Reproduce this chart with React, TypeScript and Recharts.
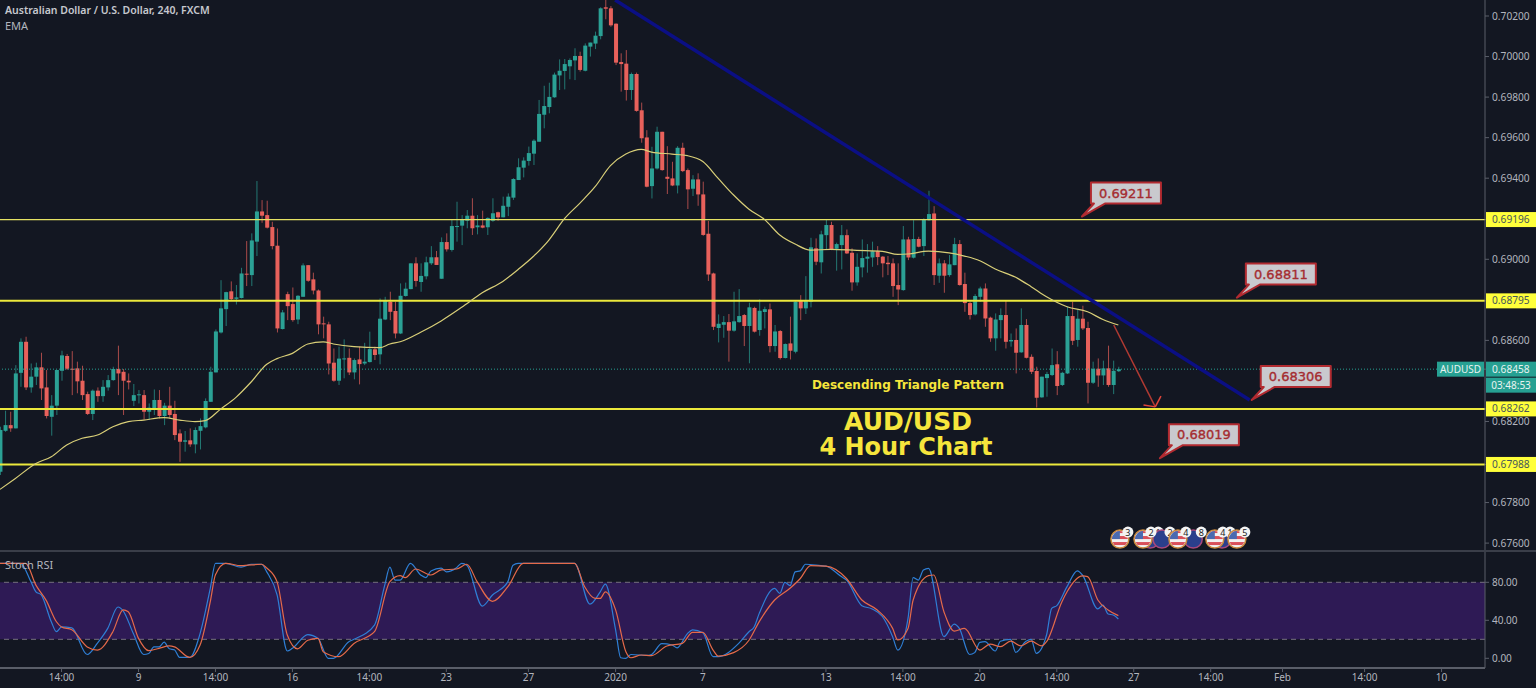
import {
  ComposedChart,
  Bar,
  Line,
  XAxis,
  YAxis,
  ReferenceLine,
  ReferenceArea,
  ReferenceDot,
} from "recharts";

// prices are in points, 1 point = 0.00001
const opens = [
  67952,68154,68182,68166,68440,68593,68368,68421,68467,68368,
  68223,68278,68450,68523,68460,68462,68401,68335,68237,68352,
  68325,68368,68404,68459,68445,68401,68302,68330,68330,68248,
  68265,68306,68227,68278,68237,68141,68100,68107,68087,68154,
  68171,68297,68442,68639,68754,68842,68805,68809,68929,68922,
  69087,69236,69218,69159,69067,68656,68828,68779,68703,68815,
  68971,68901,68846,68684,68679,68490,68401,68508,68514,68442,
  68506,68486,68493,68556,68531,68703,68791,68745,68634,68819,
  68853,68980,68888,68916,68980,69010,68904,69085,69046,69161,
  69166,69190,69215,69158,69167,69158,69190,69232,69207,69259,
  69304,69391,69452,69485,69521,69580,69713,69751,69799,69907,
  69929,69952,69981,70003,69930,70049,70064,70101,70243,70238,
  70162,69973,69965,69835,69914,69735,69601,69361,69448,69629,
  69407,69399,69364,69550,69440,69348,69394,69320,69126,68930,
  68661,68677,68690,68648,68690,68725,68671,68760,68651,68740,
  68753,68572,68646,68513,68585,68544,68794,68758,68791,69054,
  68985,69119,69169,69052,69070,69119,69032,68886,68960,69003,
  69009,69040,69013,68983,68980,68873,68848,69098,69008,69100,
  69065,69193,69226,68919,68980,68922,68971,69075,68878,68784,
  68728,68815,68856,68712,68610,68700,68725,68595,68602,68541,
  68676,68519,68449,68319,68414,68429,68482,68380,68437,68720,
  68602,68707,68661,68391,68460,68427,68462,68380,68448,
];
const highs = [
  68174,68253,68248,68478,68610,68618,68486,68490,68539,68454,
  68330,68454,68549,68533,68547,68495,68475,68347,68358,68368,
  68404,68429,68470,68574,68459,68437,68385,68355,68355,68289,
  68358,68355,68292,68371,68302,68161,68153,68166,68171,68215,
  68314,68470,68654,68897,68840,68891,68873,68958,69090,69128,
  69386,69292,69289,69185,69152,68750,68840,68861,68823,68980,
  68971,68934,68851,68717,68692,68560,68569,68605,68560,68511,
  68569,68588,68643,68569,68807,68815,68840,68791,68881,68885,
  68980,69010,68980,69013,69065,69041,69108,69128,69194,69284,
  69218,69243,69301,69218,69240,69207,69301,69235,69309,69325,
  69400,69498,69503,69556,69592,69786,69856,69871,69921,69986,
  69988,69991,70041,70024,70065,70069,70123,70243,70287,70249,
  70164,70016,70032,69921,69921,69773,69637,69555,69654,69629,
  69558,69481,69558,69575,69448,69415,69424,69383,69189,68934,
  68728,68720,68730,68840,68853,68730,68786,68766,68802,68766,
  68782,68676,68651,68585,68717,68796,68823,68917,69106,69103,
  69141,69197,69185,69082,69169,69147,69054,69029,69098,69075,
  69087,69065,69016,69016,69004,68980,69164,69111,69193,69111,
  69202,69338,69262,69004,68996,69021,69106,69095,68934,68791,
  68828,68865,68881,68717,68733,68758,68799,68634,68659,68758,
  68705,68531,68470,68421,68445,68560,68547,68445,68766,68791,
  68750,68771,68692,68495,68511,68500,68574,68500,68470,
];
const lows = [
  67936,68149,68149,68166,68371,68355,68342,68380,68306,68215,
  68130,68232,68401,68454,68330,68339,68306,68232,68207,68297,
  68297,68352,68401,68330,68232,68358,68276,68289,68210,68207,
  68232,68215,68182,68215,68108,68001,68051,68075,68043,68062,
  68166,68297,68442,68634,68671,68799,68777,68807,68868,68868,
  69016,69180,69152,69049,68639,68654,68700,68692,68680,68815,
  68889,68827,68630,68610,68432,68396,68380,68413,68429,68408,
  68383,68478,68491,68503,68482,68700,68700,68610,68631,68816,
  68852,68865,68840,68901,68972,68972,68904,69038,69038,69087,
  69070,69153,69120,69123,69153,69120,69185,69190,69207,69213,
  69293,69391,69404,69462,69465,69580,69646,69720,69797,69835,
  69838,69888,69884,69926,69927,70000,70037,70085,70184,70147,
  69958,69827,69783,69786,69728,69575,69355,69300,69443,69437,
  69322,69361,69325,69430,69248,69312,69264,69116,68893,68651,
  68590,68613,68495,68643,68687,68572,68487,68639,68623,68659,
  68541,68544,68506,68511,68506,68536,68700,68730,68763,68971,
  68930,69049,69045,68944,68950,69026,68845,68870,68911,68934,
  68963,68971,68911,68922,68815,68774,68845,68996,69004,69059,
  69016,69190,68873,68884,68835,68914,68971,68870,68741,68703,
  68723,68791,68667,68593,68549,68610,68560,68569,68437,68539,
  68511,68434,68269,68317,68322,68424,68330,68375,68434,68577,
  68569,68651,68289,68385,68371,68380,68371,68335,68444,
];
const closes = [
  68158,68182,68166,68437,68593,68368,68421,68467,68363,68227,
  68278,68454,68526,68460,68457,68398,68330,68237,68352,68325,
  68371,68404,68459,68437,68401,68393,68330,68334,68248,68268,
  68306,68227,68278,68232,68133,68100,68107,68087,68158,68177,
  68301,68445,68644,68758,68838,68804,68812,68930,68924,69093,
  69236,69215,69156,69065,68659,68738,68769,68700,68820,68970,
  68894,68846,68679,68679,68486,68401,68510,68511,68442,68503,
  68483,68495,68557,68528,68707,68796,68741,68634,68820,68855,
  68980,68893,68918,68985,69010,68972,69085,69049,69164,69164,
  69194,69215,69153,69167,69156,69204,69227,69207,69264,69309,
  69396,69454,69487,69524,69585,69717,69756,69801,69911,69930,
  69963,69983,70003,69934,70054,70069,70103,70238,70236,70154,
  69970,69963,69835,69914,69732,69597,69358,69448,69629,69440,
  69397,69364,69550,69435,69345,69394,69320,69120,68925,68667,
  68682,68690,68648,68694,68720,68671,68763,68643,68746,68754,
  68572,68644,68513,68582,68549,68791,68758,68794,69059,68988,
  69123,69169,69049,69075,69119,69029,68886,68963,69006,69013,
  69040,69011,68980,68976,68868,68851,69098,69009,69100,69062,
  69197,69223,68922,68980,68919,68975,69075,68873,68784,68725,
  68819,68856,68708,68610,68703,68725,68593,68602,68539,68676,
  68514,68445,68317,68421,68434,68478,68375,68440,68720,68598,
  68707,68659,68391,68460,68427,68462,68380,68450,68458,
];

// EMA read at these bars
const emaBars = [0,3,7,10,13,16,19,22,25,28,32,35,38,40,43,46,49,52,54,57,60,63,65,69,74,76,78,82,86,90,94,98,101,104,107,110,113,116,119,122,125,127,131,134,137,140,143,146,149,152,155,158,162,167,172,175,177,181,185,188,191,194,198,201,204,208,212,215,218];
const emaValues = [67865,67919,67993,68026,68084,68117,68133,68174,68199,68207,68219,68207,68199,68204,68261,68319,68396,68482,68510,68536,68582,68593,68582,68569,68564,68582,68593,68640,68696,68763,68835,68891,68950,69015,69095,69199,69276,69358,69462,69519,69542,69529,69519,69511,69482,69399,69317,69247,69197,69120,69075,69045,69049,69044,69039,69024,69026,69040,69032,69016,68993,68952,68911,68865,68815,68766,68741,68703,68676];

// Stoch RSI read at these bars
const kBars = [0,4,6,7,8,10,11,12,14,17,19,21,23,24,26,28,29,30,31,32,33,34,35,37,39,41,42,44,47,49,51,52,54,56,57,60,62,64,65,68,69,73,75,76,77,78,80,82,83,84,86,87,89,90,91,94,96,99,100,101,112,115,117,118,120,121,122,123,126,127,129,131,132,134,135,137,139,140,144,146,147,148,151,152,153,154,155,156,157,160,161,164,165,168,170,172,174,175,177,178,179,180,181,184,186,187,189,190,191,192,194,195,197,198,200,201,202,204,205,206,208,210,211,214,215,216,217,218];
const kValues = [100,100,81,70,67,38.5,28,33,32,4,16,31.5,54,50,26,4,5,12,12,17,10,9,1,1,26,74,100,100,96,99,99,91,67,7.7,10.5,25,21,0,0,17.5,20,35,77,96,82.4,82.4,100,87.7,85,92,95,91,95.4,100,98,55,66.6,80.7,98,100,100,57,70,78,30,0.6,0,4,3,4,15.4,14,11,26,30,27,1.7,1.7,15.7,28,33,47.3,73.7,68.4,80,76.5,91,92,99,97.5,97,86,82.4,55.4,52,44,22.8,8.7,42,85,82.4,93,94.7,22.8,36,31.5,4,6,16.8,17.5,7.7,18,20,6.3,18,20,5.2,24.5,52.6,55.4,75.4,92,87.7,52,56,46.6,45.6,41.4];
const dBars = [0,5,7,9,11,12,14,17,19,22,24,25,27,29,31,33,34,37,39,41,42,44,47,51,52,54,56,58,60,62,63,66,69,73,76,78,79,81,84,86,89,91,93,96,99,102,112,114,116,117,118,120,122,123,125,127,130,133,135,137,139,140,143,146,148,151,154,156,158,161,165,168,171,174,175,177,178,181,182,184,186,188,191,193,195,197,199,201,203,204,207,208,211,212,214,216,218];
const dValues = [100,100,77,61,38.5,33,30,12,8.7,28,51,49,21,8,10.5,13,12,1,14,60,88,100,97.5,99,95,80.7,24.5,10,19,21,7,1.7,15.7,28,80.7,87,85,94,87.7,93,94,99,80.7,60,75.4,100,100,75,63,63,70,51,7,0.6,3.5,2.8,13,15.7,27.3,27.3,8.7,2.4,6,19,38.6,61.4,73.7,84,97.5,97,84,61.4,50.9,31.5,19.3,31.5,61.4,87,87.7,49,28.7,31.5,8.7,15,12.2,18,13,18,13,17.5,59.6,70,86.7,86,61.4,50.9,44.9];

// axes
const lastBar = 289.47;
const priceDomain = [67566, 70279];
const priceTicks = [70200,70000,69800,69600,69400,69196,69000,68795,68600,68458,68262,68200,67988,67800,67600];
const levelTicks = [69196,68795,68262,67988];
const lastPrice = 68458;
const timeBars = [12,27,42,57,72,87,103,120,137,161,176,191,206,221,236,250,266,281];
const timeLabels = ["14:00","9","14:00","16","14:00","23","27","2020","7","13","14:00","20","14:00","27","14:00","Feb","14:00","10"];
const stochTicks = [0,40,80];

// drawings
const thinLevels = [69196];
const thickLevels = [68795,68262,67988];
const trendBars = [119.9,243.6];
const trendPrices = [70279,68306];
const arrowBars = [217.1,225.2];
const arrowPrices = [68676,68272];
const headBars = [222.9,225.2,226.3];
const headPrices = [68281,68272,68325];
const calloutBars = [210.9,241.1,244,226.1];
const calloutPrices = [69211,68811,68306,68019];
const calloutTexts = ["0.69211","0.68811","0.68306","0.68019"];
const eventBars = [224.2,226.5,232.6,238.2,218.3,222.8,229.6,236.8,241.1];
const eventKinds = ["au","au","au","au","us","us","us","us","us"];
const eventCounts = ["1","2","8","1","3","2","4","4","5"];
const eventPrice = 67620;

const bg = "#131722";
const green = "#2ba195";
const red = "#e8615b";
const axisColor = "#5a5e69";
const textColor = "#b2b5be";
const font = "'Noto Sans', sans-serif";
const verdana = "'DejaVu Sans', sans-serif";

const ema = new Map(emaBars.map((b, i) => [b, emaValues[i]]));
const kMap = new Map(kBars.map((b, i) => [b, kValues[i]]));
const dMap = new Map(dBars.map((b, i) => [b, dValues[i]]));

const priceRows = opens.map((open, i) => ({
  bar: i,
  open,
  close: closes[i],
  range: [lows[i], highs[i]],
  ema: ema.get(i) ?? null,
}));
const stochRows = opens.map((_, i) => ({
  bar: i,
  k: kMap.get(i) ?? null,
  d: dMap.get(i) ?? null,
}));

const timeLabel = (v: number) => timeLabels[timeBars.indexOf(v)] ?? "";

function Candle(props: any) {
  const { x, y, width, height, payload } = props;
  const [low, high] = payload.range;
  const toY = (v: number) => y + ((high - v) / (high - low)) * height;
  const up = payload.close >= payload.open;
  const color = up ? green : red;
  const top = toY(Math.max(payload.open, payload.close));
  const bottom = toY(Math.min(payload.open, payload.close));
  const mid = x + width / 2;
  return (
    <g>
      <rect x={mid - 0.5} y={y} width={1} height={height} fill={color} opacity={0.7} />
      <rect x={x} y={top} width={width} height={Math.max(bottom - top, 1)} fill={color} />
    </g>
  );
}

function PriceTick(props: any) {
  const { x, y, payload } = props;
  const v = payload.value;
  const left = x - 6;
  const isLevel = levelTicks.includes(v);
  const isLast = v === lastPrice;
  let fill = textColor;
  if (isLevel) fill = "#46565a";
  if (isLast) fill = "#e8f3f1";
  return (
    <g>
      {isLevel && <rect x={left} y={y - 7.5} width={51} height={15} fill="#ffff3a" />}
      {isLast && (
        <>
          <rect x={left - 49} y={y - 7.5} width={47} height={15} fill="#26a092" />
          <text x={left - 25.5} y={y + 3.5} fontSize={10} fontFamily={font} fill="#e8f3f1" textAnchor="middle">
            AUDUSD
          </text>
          <rect x={left} y={y - 7.5} width={51} height={15} fill="#26a092" />
          <rect x={left} y={y + 8.5} width={51} height={15} fill="#26a092" />
          <text x={left + 25} y={y + 19.5} fontSize={10} fontFamily={font} fill="#e8f3f1" textAnchor="middle">
            03:48:53
          </text>
        </>
      )}
      <text x={x} y={y + 3.5} fontSize={10.2} fontFamily={font} fill={fill}>
        {(v / 100000).toFixed(5)}
      </text>
    </g>
  );
}

function Callout(props: any) {
  const { cx, cy, text } = props;
  return (
    <g transform={`translate(${cx},${cy})`}>
      <path
        d="M9,-34 H79 V-13 H23 L0,0 L12,-13 H9 Z"
        fill="#c9c9ce"
        stroke="#b12a30"
        strokeWidth={2}
        strokeLinejoin="round"
      />
      <text
        x={44}
        y={-19}
        fontSize={13}
        fontFamily={verdana}
        fill="#a52c30"
        stroke="#a52c30"
        strokeWidth={0.35}
        textAnchor="middle"
      >
        {text}
      </text>
    </g>
  );
}

function EventFlag(props: any) {
  const { cx, cy, kind, count, id } = props;
  const us = kind === "us";
  return (
    <g>
      <defs>
        <clipPath id={id}>
          <circle cx={cx} cy={cy} r={8} />
        </clipPath>
      </defs>
      <circle cx={cx} cy={cy} r={9} fill={us ? "#f2f2f2" : "#2b3f8c"} stroke={us ? "#c98a3e" : "#a8487c"} strokeWidth={1.5} />
      {us && (
        <g clipPath={`url(#${id})`}>
          <rect x={cx - 9} y={cy - 9} width={18} height={3} fill="#d9505a" />
          <rect x={cx - 9} y={cy - 3} width={18} height={3} fill="#d9505a" />
          <rect x={cx - 9} y={cy + 3} width={18} height={3} fill="#d9505a" />
          <rect x={cx - 9} y={cy - 9} width={9} height={9} fill="#4a6ab0" />
        </g>
      )}
      <circle cx={cx + 8} cy={cy - 7} r={5.5} fill="#f4f4f4" />
      <text x={cx + 8} y={cy - 3.5} fontSize={9} fontFamily={font} fill="#222" textAnchor="middle">
        {count}
      </text>
    </g>
  );
}

function LabelText(props: any) {
  const { cx, cy, text, size, bold } = props;
  return (
    <text
      x={cx}
      y={cy}
      fontSize={size}
      fontWeight={bold}
      fontFamily={verdana}
      fill="#f6e53c"
      textAnchor="middle"
      dominantBaseline="middle"
    >
      {text}
    </text>
  );
}

export default function App() {
  return (
    <div
      style={{
        position: "absolute",
        left: 0,
        top: 0,
        width: 1536,
        height: 688,
        background: bg,
        overflow: "hidden",
      }}
    >
      <div style={{ position: "absolute", left: 0, top: 0 }}>
        <ComposedChart
          width={1536}
          height={550}
          data={priceRows}
          margin={{ top: 0, right: 0, bottom: 0, left: 0 }}
        >
          <XAxis dataKey="bar" type="number" domain={[0, lastBar]} hide allowDataOverflow />
          <YAxis
            orientation="right"
            width={51}
            domain={priceDomain}
            ticks={priceTicks}
            interval={0}
            allowDataOverflow
            axisLine={{ stroke: axisColor }}
            tickLine={{ stroke: axisColor }}
            tickSize={4}
            tickMargin={3}
            tick={<PriceTick />}
          />
          {thinLevels.map((v) => (
            <ReferenceLine key={v} y={v} stroke="#e6e364" strokeWidth={1.2} />
          ))}
          {thickLevels.map((v) => (
            <ReferenceLine key={v} y={v} stroke="#ece93c" strokeWidth={2} />
          ))}
          <ReferenceLine y={lastPrice} stroke="#26a092" strokeDasharray="1 2" />
          <Bar dataKey="range" barSize={4} shape={<Candle />} isAnimationActive={false} />
          <Line
            dataKey="ema"
            type="monotone"
            stroke="#d9cf78"
            strokeWidth={1.2}
            dot={false}
            activeDot={false}
            connectNulls
            isAnimationActive={false}
          />
          <ReferenceLine
            segment={[
              { x: trendBars[0], y: trendPrices[0] },
              { x: trendBars[1], y: trendPrices[1] },
            ]}
            stroke="#0b0f84"
            strokeWidth={3.5}
          />
          <ReferenceLine
            segment={[
              { x: arrowBars[0], y: arrowPrices[0] },
              { x: arrowBars[1], y: arrowPrices[1] },
            ]}
            stroke="#b03a32"
            strokeWidth={1.5}
          />
          <ReferenceLine
            segment={[
              { x: headBars[0], y: headPrices[0] },
              { x: headBars[1], y: headPrices[1] },
            ]}
            stroke="#e2463a"
            strokeWidth={1.5}
          />
          <ReferenceLine
            segment={[
              { x: headBars[1], y: headPrices[1] },
              { x: headBars[2], y: headPrices[2] },
            ]}
            stroke="#e2463a"
            strokeWidth={1.5}
          />
          {calloutBars.map((b, i) => (
            <ReferenceDot
              key={b}
              x={b}
              y={calloutPrices[i]}
              shape={(p: any) => <Callout {...p} text={calloutTexts[i]} />}
            />
          ))}
          {eventBars.map((b, i) => (
            <ReferenceDot
              key={b}
              x={b}
              y={eventPrice}
              shape={(p: any) => (
                <EventFlag {...p} kind={eventKinds[i]} count={eventCounts[i]} id={`flag${i}`} />
              )}
            />
          ))}
          <ReferenceDot
            x={177}
            y={68375}
            shape={(p: any) => <LabelText {...p} text="Descending Triangle Pattern" size={12} bold={700} />}
          />
          <ReferenceDot
            x={177}
            y={68192}
            shape={(p: any) => <LabelText {...p} text="AUD/USD" size={25} bold={700} />}
          />
          <ReferenceDot
            x={176.6}
            y={68069}
            shape={(p: any) => <LabelText {...p} text="4 Hour Chart" size={24} bold={700} />}
          />
        </ComposedChart>
      </div>

      <div style={{ position: "absolute", left: 0, top: 550, width: 1536, height: 2, background: "#3a3e49" }} />

      <div style={{ position: "absolute", left: 0, top: 552 }}>
        <ComposedChart
          width={1536}
          height={136}
          data={stochRows}
          margin={{ top: 0, right: 0, bottom: 0, left: 0 }}
        >
          <XAxis
            dataKey="bar"
            type="number"
            domain={[0, lastBar]}
            ticks={timeBars}
            interval={0}
            height={20}
            allowDataOverflow
            tickFormatter={timeLabel}
            axisLine={{ stroke: axisColor, strokeWidth: 2 }}
            tickLine={{ stroke: axisColor }}
            tickSize={4}
            tickMargin={2}
            tick={{ fill: textColor, fontSize: 10, fontFamily: font }}
          />
          <YAxis
            orientation="right"
            width={51}
            domain={[-10.2, 111.9]}
            ticks={stochTicks}
            interval={0}
            allowDataOverflow
            tickFormatter={(v: number) => v.toFixed(2)}
            axisLine={{ stroke: axisColor }}
            tickLine={{ stroke: axisColor }}
            tickSize={4}
            tickMargin={3}
            tick={{ fill: textColor, fontSize: 10, fontFamily: font }}
          />
          <ReferenceArea y1={20} y2={80} fill="#2e1a55" fillOpacity={1} stroke="none" />
          <ReferenceLine y={80} stroke="#76717f" strokeDasharray="5 4" />
          <ReferenceLine y={20} stroke="#76717f" strokeDasharray="5 4" />
          <Line
            dataKey="k"
            type="monotone"
            stroke="#2f7fd6"
            strokeWidth={1.2}
            dot={false}
            activeDot={false}
            connectNulls
            isAnimationActive={false}
          />
          <Line
            dataKey="d"
            type="monotone"
            stroke="#e56a4a"
            strokeWidth={1.2}
            dot={false}
            activeDot={false}
            connectNulls
            isAnimationActive={false}
          />
        </ComposedChart>
      </div>

      <div style={{ position: "absolute", left: 5, top: 3, color: "#c6c8ce", font: `600 10.5px ${font}` }}>
        Australian Dollar / U.S. Dollar, 240, FXCM
      </div>
      <div style={{ position: "absolute", left: 5, top: 18, color: "#b2b5be", font: `11px ${font}` }}>EMA</div>
      <div style={{ position: "absolute", left: 5, top: 557, color: "#b2b5be", font: `11px ${font}` }}>Stoch RSI</div>
    </div>
  );
}
